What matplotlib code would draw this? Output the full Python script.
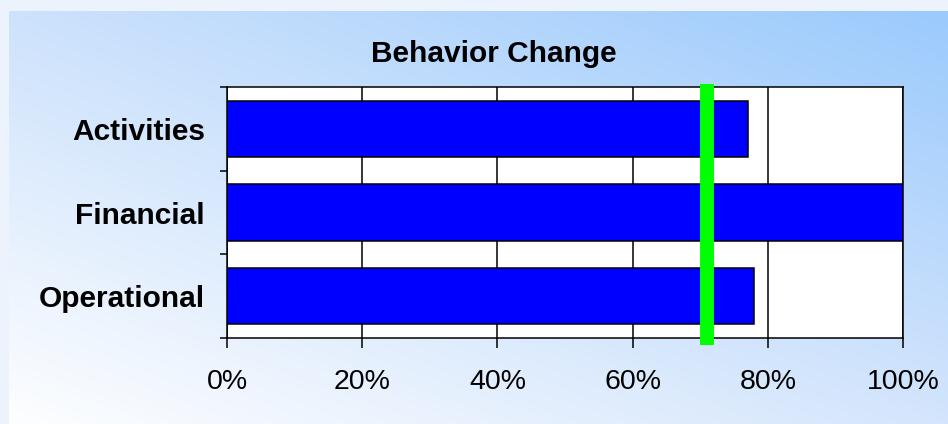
import matplotlib
matplotlib.use("Agg")
import matplotlib.pyplot as plt
import numpy as np

categories = ["Activities", "Financial", "Operational"]
values = [77, 100, 78]          # percent
target = [71]                   # percent, green marker line
xticks = [0, 20, 40, 60, 80, 100]
title = "Behavior Change"

W, H = 948, 424
fig = plt.figure(figsize=(W / 100, H / 100), dpi=100)
fig.patch.set_facecolor("#EDF3FC")

# gradient background panel
bg = fig.add_axes([9 / W, 0, 1 - 9 / W, 1 - 11 / H])
bg.set_axis_off()
tl = np.array([205, 226, 252]) / 255
tr = np.array([155, 202, 252]) / 255
bl = np.array([253, 254, 255]) / 255
br = np.array([212, 229, 252]) / 255
u = np.linspace(0, 1, 200)[None, :, None]
v = np.linspace(0, 1, 100)[:, None, None]
img = (1 - v) * ((1 - u) * tl + u * tr) + v * ((1 - u) * bl + u * br)
bg.imshow(img, aspect="auto", extent=[0, 1, 0, 1], interpolation="bilinear")

ax = fig.add_axes([227 / W, (H - 338) / H, 676 / W, 251 / H])
ax.set_facecolor("white")
y = np.arange(len(categories))
ax.barh(y, values, height=0.67, color="#0000FF", edgecolor="black",
        linewidth=1.1, zorder=3)
ax.axvline(target[0], ymin=-0.028, ymax=1.012, color="#00FF00",
           linewidth=10, zorder=4, clip_on=False, solid_capstyle="butt")

ax.set_xlim(0, 100)
ax.set_ylim(len(categories) - 0.5, -0.5)
ax.set_xticks(xticks)
ax.set_xticklabels([f"{t}%" for t in xticks], fontsize=20.5,
                   family="Liberation Sans")
ax.set_yticks(y)
ax.set_yticklabels(categories, fontsize=21.5, fontweight="bold",
                   family="Liberation Sans")
ax.set_yticks(np.arange(len(categories) + 1) - 0.5, minor=True)
ax.tick_params(axis="y", which="major", length=0, pad=16)
ax.tick_params(axis="y", which="minor", length=5, width=1.1,
               direction="out", color="black")
ax.tick_params(axis="x", which="major", length=7, width=1.1,
               direction="out", pad=15, color="black")
ax.xaxis.grid(True, color="black", linewidth=1.1, zorder=1)
ax.set_axisbelow(True)
for s in ax.spines.values():
    s.set_color("black")
    s.set_linewidth(1.1)

fig.text(494 / W, 1 - 54 / H, title, ha="center", va="center",
         fontsize=21.5, fontweight="bold", family="Liberation Sans")

fig.savefig("out.png", dpi=100, facecolor=fig.get_facecolor())
